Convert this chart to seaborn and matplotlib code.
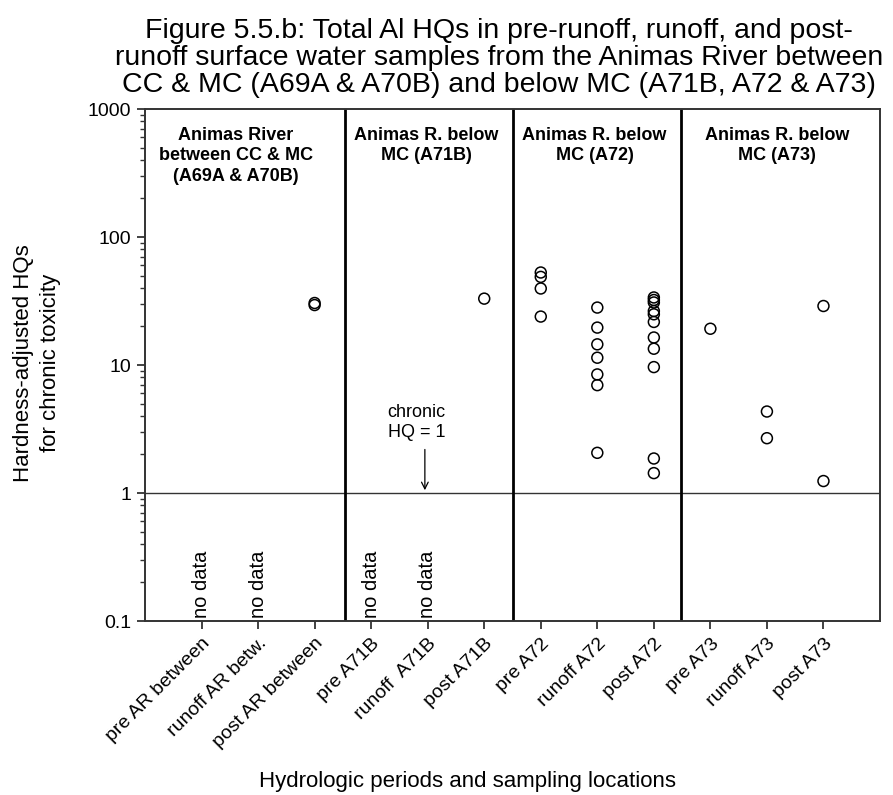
import matplotlib
matplotlib.use("Agg")
import matplotlib.pyplot as plt
import seaborn as sns
import pandas as pd
import numpy as np

sns.set_theme(style="white")
plt.rcParams['font.family'] = ['Liberation Sans', 'DejaVu Sans']
plt.rcParams['text.color'] = 'black'
plt.rcParams['axes.labelcolor'] = 'black'
plt.rcParams['xtick.color'] = 'black'
plt.rcParams['ytick.color'] = 'black'

categories = ["pre AR between", "runoff AR betw.", "post AR between",
              "pre A71B", "runoff  A71B", "post A71B",
              "pre A72", "runoff A72", "post A72",
              "pre A73", "runoff A73", "post A73"]

post_ar_between = [30.5, 29.4]
post_a71b = [33.0]
pre_a72 = [52.8, 48.8, 39.6, 23.9]
runoff_a72 = [28.1, 19.6, 14.5, 11.4, 8.44, 6.96, 2.06]
post_a72 = [33.7, 32.2, 30.8, 26.4, 24.9, 21.7, 16.4, 13.4, 9.63, 1.86, 1.43]
pre_a73 = [19.2]
runoff_a73 = [4.33, 2.68]
post_a73 = [28.9, 1.24]

no_data_cats = ["pre AR between", "runoff AR betw.", "pre A71B", "runoff  A71B"]
panel_titles = ["Animas River\nbetween CC & MC\n(A69A & A70B)",
                "Animas R. below\nMC (A71B)",
                "Animas R. below\nMC (A72)",
                "Animas R. below\nMC (A73)"]
panel_centers = [1.61, 4.98, 7.95, 11.18]
separators = [3.53, 6.5, 9.48]

series = {"post AR between": post_ar_between, "post A71B": post_a71b,
          "pre A72": pre_a72, "runoff A72": runoff_a72, "post A72": post_a72,
          "pre A73": pre_a73, "runoff A73": runoff_a73, "post A73": post_a73}
rows = []
for cat, vals in series.items():
    for v in vals:
        rows.append({"cat": cat, "pos": categories.index(cat) + 1, "HQ": v})
df = pd.DataFrame(rows)

fig = plt.figure(figsize=(8.93, 7.95), dpi=100)
ax = fig.add_axes([145/893, 1-621/795, 735/893, 512/795])

sns.scatterplot(data=df, x="pos", y="HQ", ax=ax, marker="o", s=62,
                facecolor="none", edgecolor="black", linewidth=1.1, legend=False)
ax.set_yscale("log")
ax.set_ylim(0.1, 1000)
ax.set_xlim(0, 13)

ax.set_xticks(range(1, 13))
ax.set_xticklabels(categories, rotation=45, ha="right", va="top",
                   rotation_mode="anchor", fontsize=14)
ax.set_yticks([0.1, 1, 10, 100, 1000])
ax.set_yticklabels(["0.1", "1", "10", "100", "1000"], fontsize=14)
ax.tick_params(axis="both", which="major", direction="out", length=6, width=1.3,
               color="#333333", bottom=True, left=True, pad=4)
ax.tick_params(axis="y", which="minor", direction="out", length=3.5, width=1.0,
               color="#333333", left=True)

for sp in ["top", "right", "left", "bottom"]:
    ax.spines[sp].set_linewidth(1.4)
    ax.spines[sp].set_color("#333333")

ax.axhline(1, color="#333333", lw=1.0)
for s in separators:
    ax.axvline(s, color="black", lw=2.0)

for c in no_data_cats:
    ax.text(categories.index(c) + 1, 0.105, "no data", rotation=90,
            ha="center", va="bottom", fontsize=14.5)

for t, cx in zip(panel_titles, panel_centers):
    ax.text(cx, 0.965, t, transform=ax.get_xaxis_transform(), ha="center",
            va="top", fontsize=13, fontweight="bold", linespacing=1.27)

ax.annotate("", xy=(4.95, 1), xytext=(4.95, 2.3),
            arrowprops=dict(arrowstyle="->", lw=0.9, color="black"))
ax.text(4.8, 2.55, "chronic\nHQ = 1", ha="center", va="bottom", fontsize=13,
        linespacing=1.2)

ax.set_xlabel("")
ax.set_ylabel("")
fig.text(37/893, (795-363)/795, "Hardness-adjusted HQs\nfor chronic toxicity",
         rotation=90, ha="center", va="center", fontsize=16, linespacing=1.35)
fig.text(467/893, (795-782)/795, "Hydrologic periods and sampling locations",
         ha="center", va="center", fontsize=16)
fig.text(499/893, (795-58)/795,
         "Figure 5.5.b: Total Al HQs in pre-runoff, runoff, and post-\n"
         "runoff surface water samples from the Animas River between\n"
         "CC & MC (A69A & A70B) and below MC (A71B, A72 & A73)",
         ha="center", va="center", fontsize=20.5, linespacing=1.04)

fig.savefig("out.png", dpi=100)
